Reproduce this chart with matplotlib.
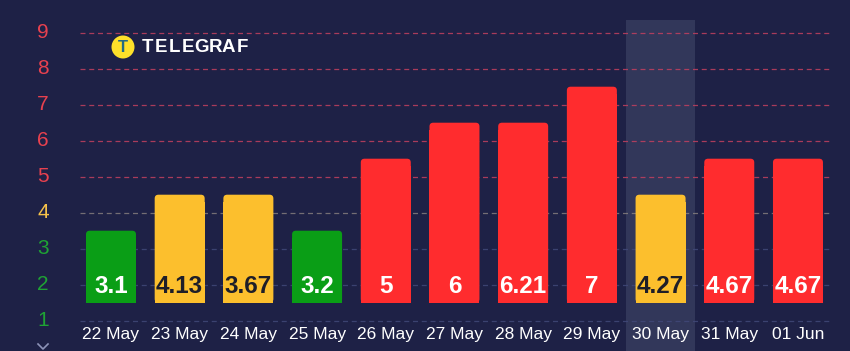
import matplotlib
matplotlib.use("Agg")
import matplotlib.pyplot as plt
from matplotlib.patches import FancyBboxPatch, Ellipse
from matplotlib.lines import Line2D

# data
dates = ["22 May", "23 May", "24 May", "25 May", "26 May", "27 May",
         "28 May", "29 May", "30 May", "31 May", "01 Jun"]
values = ["3.1", "4.13", "3.67", "3.2", "5", "6", "6.21", "7", "4.27", "4.67", "4.67"]
levels = [3, 4, 4, 3, 5, 6, 6, 7, 4, 5, 5]
highlight = 8  # index of 30 May

BG = "#1e2146"
GREEN = "#0a9e16"
YELLOW = "#fcbf2d"
RED = "#ff2c2e"


def level_color(lv):
    if lv <= 3:
        return GREEN
    if lv == 4:
        return YELLOW
    return RED


plt.rcParams['font.family'] = ['Liberation Sans', 'DejaVu Sans']

fig = plt.figure(figsize=(8.5, 3.51), dpi=100, facecolor=BG)
ax = fig.add_axes([80 / 850, 0, 753 / 850, 1])
ax.set_facecolor(BG)
ax.set_xlim(-0.451, 10.51)
ax.set_ylim(1 + (320.7 - 351) / 36, 1 + 320.7 / 36)
for s in ax.spines.values():
    s.set_visible(False)
ax.set_xticks([])
ax.set_yticks([])

# highlighted day
ax.axvspan(highlight - 0.5, highlight + 0.5, ymin=0, ymax=(351 - 20) / 351,
           color="#3a3f62", alpha=0.75, lw=0, zorder=0)

# grid lines + y labels
for g in range(1, 10):
    if g >= 5:
        gc, lc, a = "#c2405f", "#e8414f", 0.85
    elif g == 4:
        gc, lc, a = "#9a9088", "#f6c24a", 0.7
    else:
        gc, lc, a = "#414878", "#1fa334", 0.85
    ax.axhline(g, color=gc, lw=0.9, ls=(0, (4, 3)), alpha=a, zorder=1)
    ax.text(-0.451 - 37 / 68.7, g, str(g), color=lc, fontsize=15,
            ha="center", va="center", clip_on=False)

# bars
bw = 50 / 68.7
for i, (lv, v) in enumerate(zip(levels, values)):
    c = level_color(lv)
    top = lv + 0.5
    ax.add_patch(FancyBboxPatch((i - bw / 2, 1.5), bw, top - 1.5,
                                boxstyle="round,pad=0,rounding_size=0.055",
                                mutation_aspect=1.9, fc=c, ec="none", zorder=2))
    ax.bar(i, top - 1.7, bottom=1.5, width=bw, color=c, zorder=2)
    tc = "#1e1e28" if c == YELLOW else "white"
    ax.text(i, 1.96, v, color=tc, fontsize=17.5, fontweight="bold",
            ha="center", va="center", zorder=3)
    ax.text(i, 0.48, dates[i], color="white", fontsize=12.5,
            ha="center", va="baseline", zorder=3)

# logo
fig.patches.append(Ellipse((123 / 850, 1 - 47 / 351), 23 / 850, 23 / 351,
                           transform=fig.transFigure, fc="#fde02a", ec="none"))
fig.text(123 / 850, 1 - 47.5 / 351, "T", color="#226a82", fontsize=12,
         fontweight="bold", ha="center", va="center")
for k, ch in enumerate("TELEGRAF"):
    fig.text((147 + k * 13.6) / 850, 1 - 47 / 351, ch, color="white",
             fontsize=13.5, fontweight="bold", ha="center", va="center")

# small chevron bottom-left
fig.lines.append(Line2D([38 / 850, 43 / 850, 48 / 850],
                        [1 - 344 / 351, 1 - 349 / 351, 1 - 344 / 351],
                        transform=fig.transFigure, color="#8d93b8", lw=1.2))

fig.savefig("out.png", dpi=100, facecolor=BG)
